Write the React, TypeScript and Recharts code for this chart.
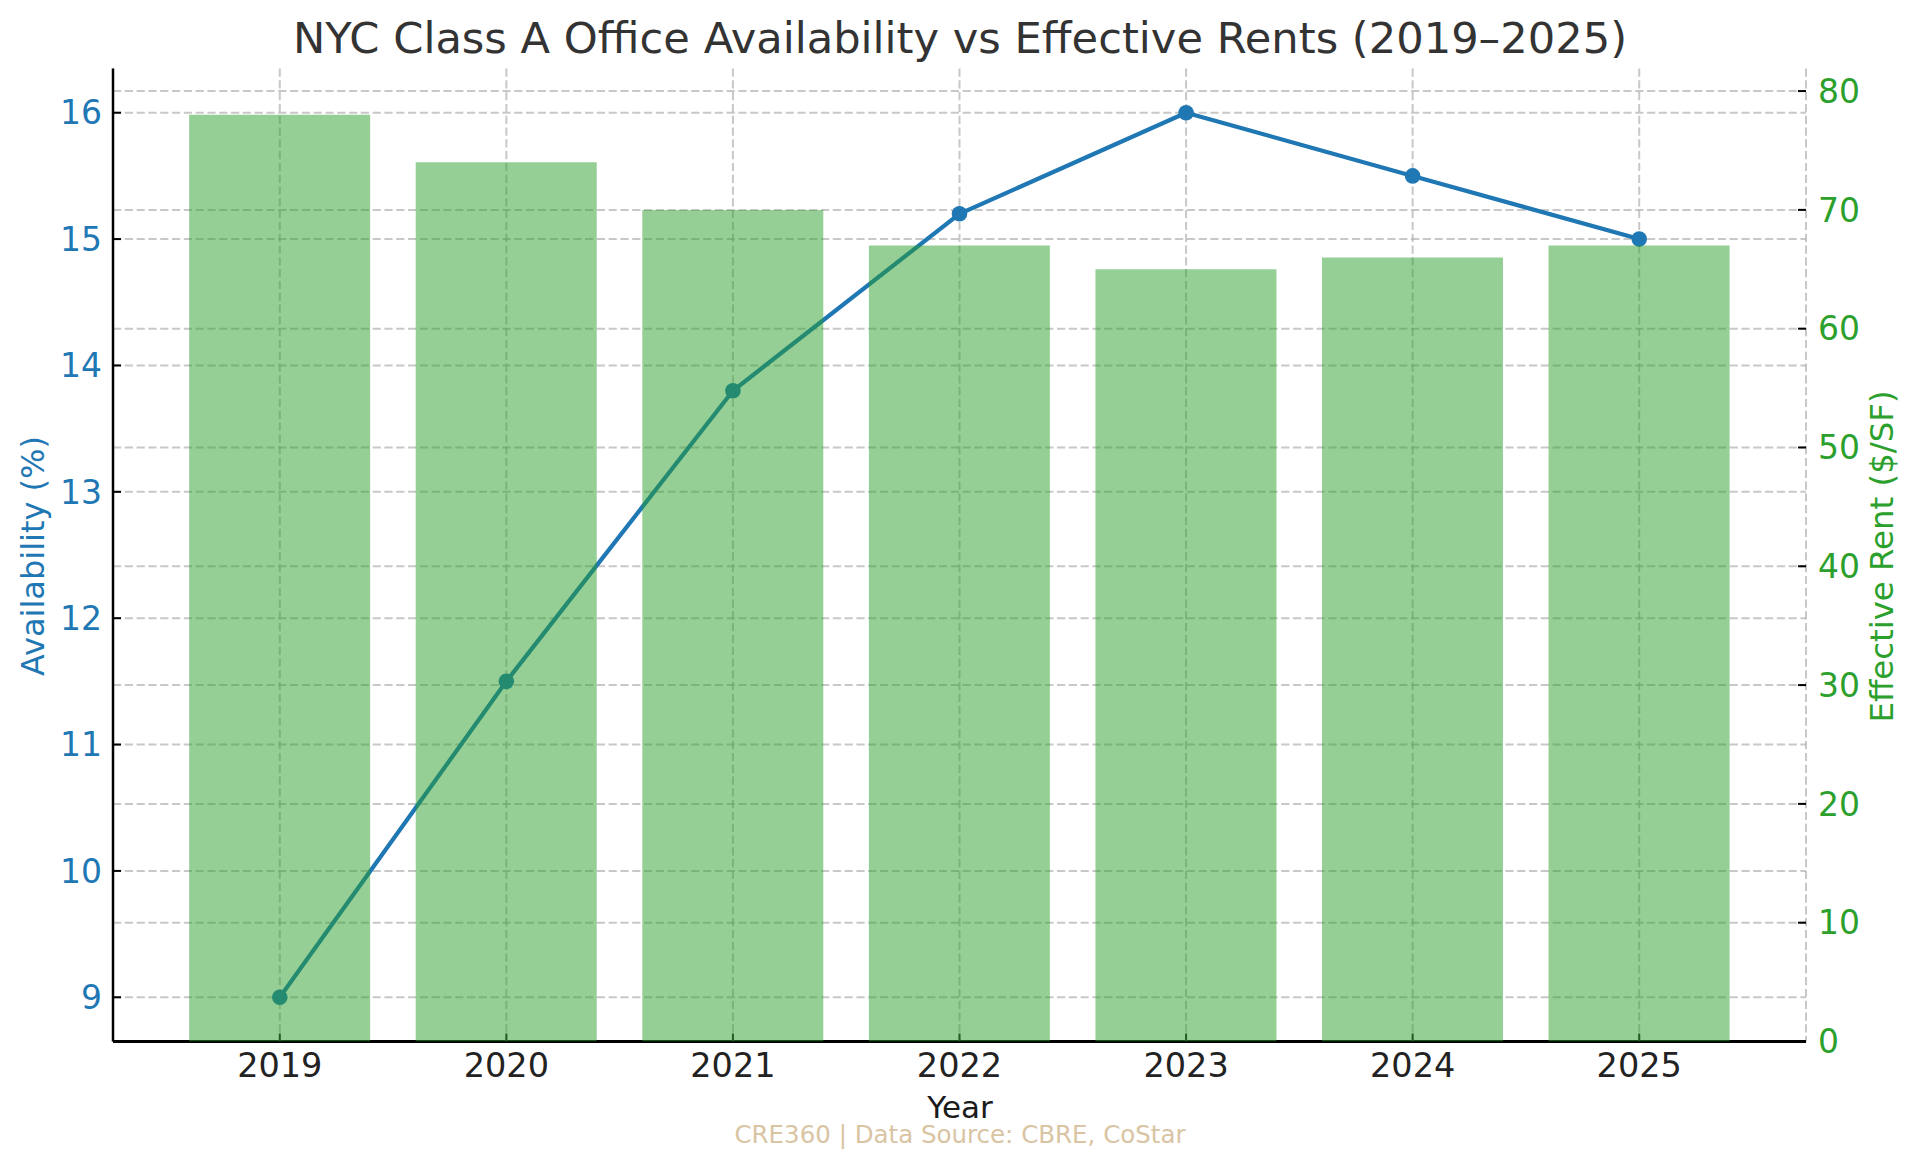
import React from 'react';
import { ComposedChart, Bar, Line, XAxis, YAxis, CartesianGrid } from 'recharts';

// values
const years = ['2019', '2020', '2021', '2022', '2023', '2024', '2025'];
const availability = [9.0, 11.5, 13.8, 15.2, 16.0, 15.5, 15.0];
const effectiveRent = [78, 74, 70, 67, 65, 66, 67];
const leftTicks = [9, 10, 11, 12, 13, 14, 15, 16];
const rightTicks = [0, 10, 20, 30, 40, 50, 60, 70, 80];

const BLUE = '#1f77b4';
const GREEN = '#2ca02c';
const FONT = '"DejaVu Sans", Verdana, sans-serif';

const data = years.map((year, i) => ({
  year,
  availability: availability[i],
  rent: effectiveRent[i],
}));

const gridProps = {
  stroke: '#b0b0b0',
  strokeOpacity: 0.7,
  strokeWidth: 2,
  strokeDasharray: '8.2 3.6',
};

const App: React.FC = () => {
  return (
    <div style={{ position: 'absolute', left: 0, top: 0, width: 1920, height: 1168, background: '#fff' }}>
      <ComposedChart
        width={1920}
        height={1168}
        data={data}
        margin={{ top: 68.5, right: 0, bottom: 0, left: 0 }}
        barCategoryGap="10%"
      >
        <CartesianGrid {...gridProps} horizontal={false} vertical yAxisId="left" />
        <CartesianGrid {...gridProps} vertical={false} yAxisId="left" horizontalValues={leftTicks} />
        <CartesianGrid {...gridProps} vertical={false} yAxisId="right" horizontalValues={rightTicks} />
        <XAxis
          dataKey="year"
          height={126.5}
          padding={{ left: 53.5, right: 53.5 }}
          axisLine={{ stroke: '#000', strokeWidth: 3 }}
          tickLine={{ stroke: '#1a1a1a', strokeWidth: 2 }}
          tickSize={-8}
          tickMargin={19.5}
          tick={{ fill: '#222', fontSize: 33.5, fontFamily: FONT }}
          interval={0}
        />
        <YAxis
          yAxisId="left"
          orientation="left"
          width={113}
          domain={[8.65, 16.35]}
          ticks={leftTicks}
          allowDataOverflow
          axisLine={{ stroke: '#000', strokeWidth: 2.5 }}
          tickLine={{ stroke: '#000', strokeWidth: 2 }}
          tickSize={-8}
          tickMargin={19}
          tick={{ fill: BLUE, fontSize: 33, fontFamily: FONT }}
        />
        <YAxis
          yAxisId="right"
          orientation="right"
          width={114}
          domain={[0, 81.9]}
          ticks={rightTicks}
          allowDataOverflow
          axisLine={false}
          tickLine={{ stroke: '#000', strokeWidth: 2 }}
          tickSize={-8}
          tickMargin={20}
          tick={{ fill: GREEN, fontSize: 33, fontFamily: FONT }}
        />
        <Line
          yAxisId="left"
          type="linear"
          dataKey="availability"
          stroke={BLUE}
          strokeWidth={4.2}
          dot={{ r: 7.8, fill: BLUE, stroke: BLUE, strokeWidth: 0 }}
          activeDot={false}
          isAnimationActive={false}
          zIndex={250}
        />
        {/* bars sit over the line and its markers, like the twin axis in the original */}
        <Bar
          yAxisId="right"
          dataKey="rent"
          fill={GREEN}
          fillOpacity={0.5}
          isAnimationActive={false}
          zIndex={700}
        />
      </ComposedChart>
      <svg
        width={1920}
        height={1168}
        style={{ position: 'absolute', left: 0, top: 0, pointerEvents: 'none' }}
        fontFamily={FONT}
      >
        <text x={960} y={52.7} textAnchor="middle" fontSize={43.2} fill="#333">
          NYC Class A Office Availability vs Effective Rents (2019–2025)
        </text>
        <text x={960} y={1118} textAnchor="middle" fontSize={31} fill="#1a1a1a">
          Year
        </text>
        <text x={960} y={1143} textAnchor="middle" fontSize={24.5} fill="#d9c4a3">
          CRE360 | Data Source: CBRE, CoStar
        </text>
        <text x={44} y={556} textAnchor="middle" fontSize={32} fill={BLUE} transform="rotate(-90 44 556)">
          Availability (%)
        </text>
        <text x={1893} y={556.5} textAnchor="middle" fontSize={32.4} fill={GREEN} transform="rotate(-90 1893 556.5)">
          Effective Rent ($/SF)
        </text>
      </svg>
    </div>
  );
};

export default App;
